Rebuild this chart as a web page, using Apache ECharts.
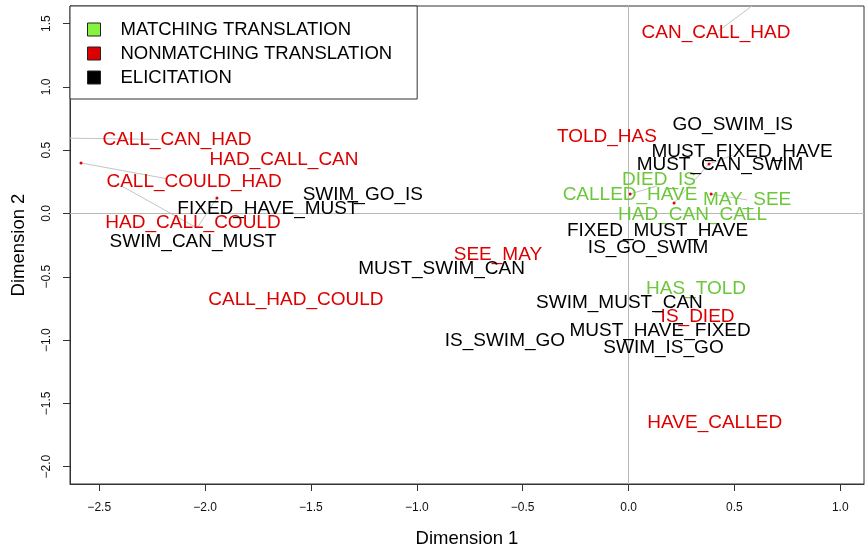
<!DOCTYPE html>
<html>
<head>
<meta charset="utf-8">
<script src="https://cdn.jsdelivr.net/npm/echarts@6/dist/echarts.min.js"></script>
<style>
  html, body { margin: 0; padding: 0; background: #fff; }
  #chart { width: 865px; height: 548px; }
</style>
</head>
<body>
<div id="chart"></div>
<script>
// Word positions on the two MDS dimensions, grouped by condition
const matchNames = ['CALLED_HAVE', 'DIED_IS', 'MAY_SEE', 'HAD_CAN_CALL', 'HAS_TOLD'];
const matchX = [0.007, 0.144, 0.560, 0.302, 0.319];
const matchY = [0.146, 0.265, 0.107, -0.012, -0.592];

const nonmatchNames = ['CAN_CALL_HAD', 'CALL_CAN_HAD', 'HAD_CALL_CAN', 'CALL_COULD_HAD', 'HAD_CALL_COULD',
  'TOLD_HAS', 'SEE_MAY', 'CALL_HAD_COULD', 'IS_DIED', 'HAVE_CALLED'];
const nonmatchX = [0.413, -2.133, -1.627, -2.052, -2.057, -0.102, -0.617, -1.571, 0.326, 0.407];
const nonmatchY = [1.426, 0.581, 0.423, 0.249, -0.075, 0.604, -0.328, -0.683, -0.817, -1.655];

const elicitNames = ['GO_SWIM_IS', 'MUST_FIXED_HAVE', 'MUST_CAN_SWIM', 'SWIM_GO_IS', 'FIXED_HAVE_MUST',
  'SWIM_CAN_MUST', 'FIXED_MUST_HAVE', 'IS_GO_SWIM', 'MUST_SWIM_CAN', 'SWIM_MUST_CAN',
  'IS_SWIM_GO', 'MUST_HAVE_FIXED', 'SWIM_IS_GO'];
const elicitX = [0.492, 0.536, 0.432, -1.255, -1.703, -2.057, 0.137, 0.092, -0.883, -0.043, -0.584, 0.149, 0.165];
const elicitY = [0.699, 0.486, 0.383, 0.146, 0.036, -0.224, -0.138, -0.272, -0.438, -0.703, -1.007, -0.928, -1.062];

// Original point locations of labels that were pushed away
const dotX = [-2.586, -1.944, 0.007, 0.215, 0.390, 0.380];
const dotY = [0.399, 0.122, 0.154, 0.083, 0.154, 0.391];

// Leader segments joining points to their labels
const leadX1 = [-2.586, -2.638, 0.423, -2.394, -1.944, 0.007, 0.215, 0.380, 0.390, 0.125];
const leadY1 = [0.399, 0.595, 1.441, 0.217, 0.122, 0.154, 0.083, 0.391, 0.154, -0.778];
const leadX2 = [-2.176, -2.220, 0.583, -2.038, -2.038, 0.135, 0.380, 0.494, 0.560, 0.163];
const leadY2 = [0.273, 0.585, 1.639, -0.115, -0.115, 0.217, 0.391, 0.462, 0.107, -0.778];

const xTicks = [-2.5, -2.0, -1.5, -1.0, -0.5, 0.0, 0.5, 1.0];
const yTicks = [-2.0, -1.5, -1.0, -0.5, 0.0, 0.5, 1.0, 1.5];

const legendNames = ['MATCHING TRANSLATION', 'NONMATCHING TRANSLATION', 'ELICITATION'];

const FONT = '"Liberation Sans", Arial, Helvetica, sans-serif';
const GREEN_TEXT = '#6cc83a';
const GREEN_KEY = '#86f43e';
const RED = '#dd0000';
const BLACK = '#000000';

function pts(names, xs, ys) {
  return names.map((n, i) => ({ name: n, value: [xs[i], ys[i]] }));
}

function labelSeries(name, names, xs, ys, color) {
  return {
    name: name,
    type: 'scatter',
    z: 5,
    symbolSize: 0,
    itemStyle: { color: color, opacity: 1 },
    silent: true,
    label: {
      show: true,
      position: 'inside',
      formatter: p => p.name,
      color: color,
      opacity: 1,
      fontSize: 19,
      fontFamily: FONT
    },
    data: pts(names, xs, ys)
  };
}

const fmt = v => (v < 0 ? '\u2212' : '') + Math.abs(v).toFixed(1);

const chart = echarts.init(document.getElementById('chart'), null, { renderer: 'canvas' });

chart.setOption({
  animation: false,
  backgroundColor: '#fff',
  textStyle: { fontFamily: FONT },
  grid: {
    left: 70, right: 1, top: 6, bottom: 64,
    show: true, borderColor: '#333', borderWidth: 1, backgroundColor: 'transparent',
    containLabel: false, outerBoundsMode: 'none'
  },
  legend: {
    left: 70, top: 6,
    orient: 'vertical',
    selectedMode: false,
    backgroundColor: '#fff',
    borderColor: '#333', borderWidth: 1, borderRadius: 0,
    padding: [14, 25, 12, 17],
    itemWidth: 13, itemHeight: 13, itemGap: 5,
    formatter: n => '{t|' + n + '}',
    textStyle: {
      color: '#000', fontSize: 18.5, fontFamily: FONT,
      rich: { t: { padding: [0, 0, 0, 15], fontSize: 18.5, fontFamily: FONT, color: '#000', lineHeight: 20 } }
    },
    data: [
      { name: legendNames[0], icon: 'rect', itemStyle: { color: GREEN_KEY, borderColor: '#222', borderWidth: 1, opacity: 1 } },
      { name: legendNames[1], icon: 'rect', itemStyle: { color: RED, borderColor: '#222', borderWidth: 1, opacity: 1 } },
      { name: legendNames[2], icon: 'rect', itemStyle: { color: BLACK, borderColor: '#222', borderWidth: 1, opacity: 1 } }
    ],
    z: 10
  },
  xAxis: {
    type: 'value',
    min: -2.638, max: 1.112,
    name: 'Dimension 1', nameLocation: 'middle', nameGap: 45,
    nameTextStyle: { fontSize: 18.5, color: '#000', fontFamily: FONT },
    axisLine: { show: true, onZero: false, lineStyle: { color: '#333', width: 1 } },
    axisTick: { show: true, length: 7, customValues: xTicks, lineStyle: { color: '#333' } },
    axisLabel: { customValues: xTicks, formatter: fmt, fontSize: 12, color: '#111', margin: 18, fontFamily: FONT },
    splitLine: { show: false }
  },
  yAxis: {
    type: 'value',
    min: -2.137, max: 1.639,
    name: 'Dimension 2', nameLocation: 'middle', nameGap: 42,
    nameTextStyle: { fontSize: 18.5, color: '#000', fontFamily: FONT },
    axisLine: { show: true, onZero: false, lineStyle: { color: '#333', width: 1 } },
    axisTick: { show: true, length: 7, customValues: yTicks, lineStyle: { color: '#333' } },
    axisLabel: { customValues: yTicks, formatter: fmt, fontSize: 12, color: '#111', margin: 17, rotate: 90, fontFamily: FONT },
    splitLine: { show: false }
  },
  series: [
    {
      name: 'leaders',
      type: 'lines',
      coordinateSystem: 'cartesian2d',
      z: 2,
      silent: true,
      lineStyle: { color: '#c4c4c4', width: 1, opacity: 1 },
      data: leadX1.map((x, i) => ({ coords: [[x, leadY1[i]], [leadX2[i], leadY2[i]]] })),
      markLine: {
        silent: true,
        symbol: 'none',
        label: { show: false },
        lineStyle: { color: '#b8b8b8', type: 'solid', width: 1 },
        data: [{ xAxis: 0 }, { yAxis: 0 }]
      }
    },
    {
      name: 'points',
      type: 'scatter',
      z: 3,
      silent: true,
      symbol: 'circle',
      symbolSize: 3,
      itemStyle: { color: RED, opacity: 1 },
      data: dotX.map((x, i) => [x, dotY[i]])
    },
    labelSeries(legendNames[0], matchNames, matchX, matchY, GREEN_TEXT),
    labelSeries(legendNames[1], nonmatchNames, nonmatchX, nonmatchY, RED),
    labelSeries(legendNames[2], elicitNames, elicitX, elicitY, BLACK)
  ]
});
</script>
</body>
</html>
